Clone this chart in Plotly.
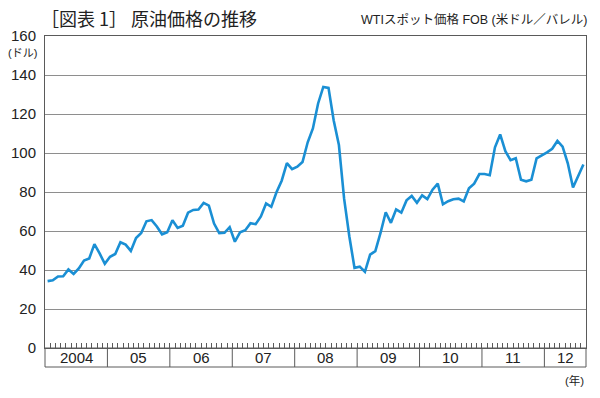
import plotly.graph_objects as go

# Monthly WTI spot price (USD/bbl), Jan 2004 - Aug 2012
y2004 = [34.3, 34.7, 36.7, 36.8, 40.3, 38.0, 40.8, 44.9, 45.9, 53.3, 48.5, 43.2]
y2005 = [46.8, 48.2, 54.2, 53.0, 49.8, 56.4, 59.0, 65.0, 65.6, 62.3, 58.3, 59.4]
y2006 = [65.5, 61.6, 62.7, 69.4, 70.8, 71.0, 74.4, 73.0, 63.8, 58.9, 59.1, 62.0]
y2007 = [54.5, 59.3, 60.4, 64.0, 63.5, 67.5, 74.1, 72.4, 79.9, 85.8, 94.8, 91.7]
y2008 = [93.0, 95.4, 105.5, 112.6, 125.4, 133.9, 133.4, 116.7, 104.1, 76.6, 57.3, 41.1]
y2009 = [41.7, 39.1, 47.9, 49.7, 59.0, 69.6, 64.2, 71.1, 69.4, 75.7, 78.0, 74.5]
y2010 = [78.3, 76.4, 81.2, 84.3, 73.7, 75.3, 76.3, 76.6, 75.2, 81.9, 84.3, 89.2]
y2011 = [89.2, 88.6, 102.9, 109.5, 100.9, 96.3, 97.3, 86.3, 85.5, 86.3, 97.2, 98.6]
y2012 = [100.3, 102.2, 106.2, 103.3, 94.7, 82.3, 87.9, 94.1]

year_series = [y2004, y2005, y2006, y2007, y2008, y2009, y2010, y2011, y2012]
year_labels = ["2004", "05", "06", "07", "08", "09", "10", "11", "12"]
y_ticks = [0, 20, 40, 60, 80, 100, 120, 140, 160]

values = [v for ys in year_series for v in ys]
months = list(range(len(values)))
n = len(values)

LINE = "#1a8fd4"
GRID = "#8e8e8e"
AX = "#5a5a5a"
TXT = "#222222"
FONT = "Liberation Sans, Arial, Noto Sans CJK JP"

fig = go.Figure()
fig.add_trace(go.Scatter(x=months, y=values, mode="lines",
                         line=dict(color=LINE, width=2.6), hoverinfo="skip",
                         showlegend=False))

# plot geometry for paper offsets
plot_h = 398 - 36 - 50
box_bottom = -(367 - 348) / plot_h

shapes = []
shapes.append(dict(type="rect", xref="paper", yref="paper", x0=0, x1=1,
                   y0=box_bottom, y1=0, line=dict(color=AX, width=1)))
start = 0
annotations = []
for lab, ys in zip(year_labels, year_series):
    end = start + len(ys)
    if start > 0:
        shapes.append(dict(type="line", xref="x", yref="paper",
                           x0=start - 0.5, x1=start - 0.5, y0=box_bottom, y1=0,
                           line=dict(color=AX, width=1)))
    annotations.append(dict(x=(start + end - 1) / 2, xref="x",
                            y=-(358 - 348) / plot_h, yref="paper",
                            text=lab, showarrow=False,
                            font=dict(size=15, color=TXT, family=FONT),
                            xanchor="center", yanchor="middle"))
    start = end

pw = 600 - 45 - 14
annotations += [
    dict(x=0, xref="paper", y=1 + (36 - 18) / plot_h, yref="paper",
         text="［図表 1］ 原油価格の推移", showarrow=False, xanchor="left",
         yanchor="middle", xshift=-6,
         font=dict(size=18, color=TXT, family="Noto Sans CJK JP")),
    dict(x=1 + 3 / pw, xref="paper", y=1 + (36 - 20) / plot_h, yref="paper",
         text="WTIスポット価格 FOB (米ドル／バレル)", showarrow=False,
         xanchor="right", yanchor="middle",
         font=dict(size=12.5, color=TXT, family=FONT)),
    dict(x=(22 - 45) / pw, xref="paper", y=1 - (53 - 36) / plot_h, yref="paper",
         text="(ドル)", showarrow=False, xanchor="center", yanchor="middle",
         font=dict(size=11, color=TXT, family=FONT)),
    dict(x=1, xref="paper", y=-(380 - 348) / plot_h, yref="paper",
         text="(年)", showarrow=False, xanchor="right", yanchor="middle",
         font=dict(size=11.5, color=TXT, family=FONT)),
]

fig.update_layout(
    width=600, height=398,
    margin=dict(l=45, r=14, t=36, b=50),
    plot_bgcolor="white", paper_bgcolor="white",
    shapes=shapes, annotations=annotations,
    xaxis=dict(range=[-0.5, n - 0.5], showgrid=False, zeroline=False,
               showline=True, linecolor=AX, linewidth=1, mirror=True,
               ticks="inside", ticklen=5, tickwidth=1, tickcolor=AX,
               tickmode="array", tickvals=[m - 0.5 for m in range(n + 1)],
               showticklabels=False),
    yaxis=dict(range=[0, 160], tickmode="array", tickvals=y_ticks,
               showgrid=True, gridcolor=GRID, gridwidth=1, zeroline=False,
               showline=True, linecolor=AX, linewidth=1, mirror=True,
               ticks="", ticklabelstandoff=5,
               tickfont=dict(size=15, color=TXT, family=FONT)),
)

fig.write_html("out.html", config={"displayModeBar": False},
               post_script="document.body.style.margin='0';document.body.style.padding='0';")
